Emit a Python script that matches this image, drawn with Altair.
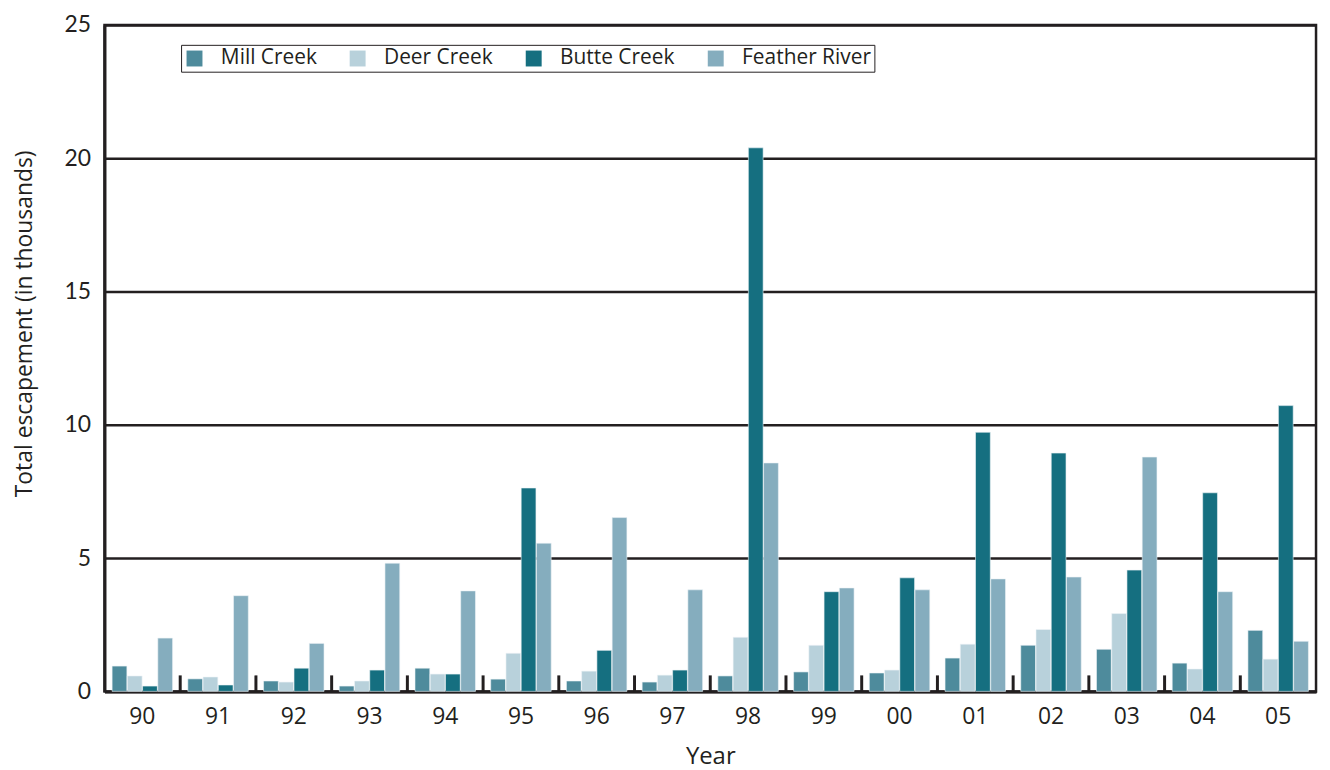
import altair as alt
import pandas as pd

years = ["90", "91", "92", "93", "94", "95", "96", "97", "98", "99", "00", "01", "02", "03", "04", "05"]
series = ["Mill Creek", "Deer Creek", "Butte Creek", "Feather River"]
colors = ["#4e8b9c", "#b8d1db", "#156f80", "#85adbe"]

mill = [0.95, 0.47, 0.39, 0.20, 0.87, 0.46, 0.39, 0.35, 0.58, 0.73, 0.69, 1.25, 1.73, 1.58, 1.06, 2.29]
deer = [0.58, 0.54, 0.35, 0.39, 0.65, 1.43, 0.76, 0.61, 2.03, 1.73, 0.80, 1.77, 2.32, 2.92, 0.84, 1.21]
butte = [0.20, 0.24, 0.87, 0.80, 0.65, 7.63, 1.54, 0.80, 20.39, 3.74, 4.26, 9.72, 8.94, 4.55, 7.45, 10.72]
feather = [2.00, 3.59, 1.80, 4.81, 3.77, 5.56, 6.52, 3.81, 8.57, 3.88, 3.81, 4.22, 4.29, 8.79, 3.74, 1.88]

values = {"Mill Creek": mill, "Deer Creek": deer, "Butte Creek": butte, "Feather River": feather}
rows = []
for s in series:
    for y, v in zip(years, values[s]):
        rows.append({"year": y, "river": s, "value": v})
df = pd.DataFrame(rows)

tick_df = pd.DataFrame({"year": years[1:], "lo": [0.0] * 15, "hi": [0.6] * 15})

ink = "#231f20"

xenc = alt.X("year:N", sort=years,
             scale=alt.Scale(paddingInner=0, paddingOuter=0),
             axis=alt.Axis(title="Year", labelAngle=0, labelFontSize=23, labelFont="Open Sans",
                           labelColor=ink, labelPadding=14, tickSize=0,
                           domainColor=ink, domainWidth=3,
                           titleFontSize=24, titleFont="Open Sans", titleColor=ink,
                           titleFontWeight="normal", titlePadding=16))

yenc = alt.Y("value:Q",
             scale=alt.Scale(domain=[0, 25], nice=False),
             axis=alt.Axis(title="Total escapement (in thousands)", values=[0, 5, 10, 15, 20, 25],
                           grid=True, gridColor=ink, gridWidth=2.5, tickSize=0,
                           domainColor=ink, domainWidth=3,
                           labelFontSize=23, labelFont="Lato", labelColor=ink, labelPadding=14,
                           titleFontSize=23, titleFont="Open Sans",
                           titleColor=ink, titleFontWeight="normal",
                           titleX=-80, titleY=300, titleAngle=-90,
                           titleAlign="center", titleBaseline="middle"))

bars = alt.Chart(df).mark_bar(stroke="#eef4f6", strokeWidth=0.6).encode(
    x=xenc,
    xOffset=alt.XOffset("river:N", sort=series,
                        scale=alt.Scale(domain=series, paddingInner=0.03, paddingOuter=0.5)),
    y=yenc,
    color=alt.Color("river:N",
                    scale=alt.Scale(domain=series, range=colors),
                    legend=alt.Legend(title=None, orient="none", legendX=77, legendY=20,
                                      direction="horizontal", columns=4,
                                      symbolType="square", symbolSize=256, symbolStrokeWidth=0,
                                      labelFontSize=21, labelFont="Open Sans", labelColor=ink,
                                      labelOffset=16, columnPadding=30, padding=3,
                                      strokeColor=ink, fillColor="white", labelLimit=300)),
)

ticks = alt.Chart(tick_df).mark_rule(color=ink, strokeWidth=3).encode(
    x=alt.X("year:N", sort=years, bandPosition=0),
    y="lo:Q",
    y2="hi:Q",
)

chart = alt.layer(bars, ticks).properties(
    width=1218, height=670,
    padding={"left": 97, "top": 15, "right": 6, "bottom": 77},
    autosize=alt.AutoSizeParams(type="none"),
    background="white",
).configure_view(stroke=ink, strokeWidth=2.5)

chart.save("out.html", embed_options={"renderer": "svg", "actions": False})
